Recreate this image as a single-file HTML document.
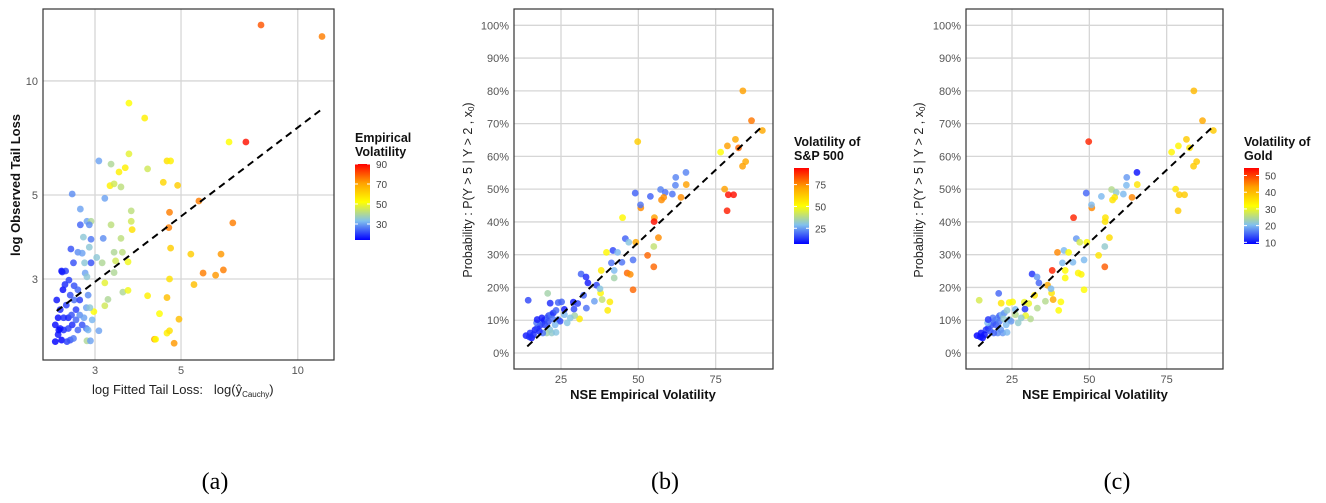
<!DOCTYPE html>
<html><head><meta charset="utf-8"><style>
body{margin:0;background:#fff;width:1326px;height:498px;overflow:hidden}
svg text{font-family:"Liberation Sans",sans-serif}
</style></head><body>
<svg id="s" width="1326" height="498" xmlns="http://www.w3.org/2000/svg">
<defs>
<linearGradient id="cg" x1="0" y1="1" x2="0" y2="0">
<stop offset="0" stop-color="#0000ff"/><stop offset="0.25" stop-color="#80c0ee"/><stop offset="0.5" stop-color="#ffff00"/><stop offset="0.75" stop-color="#ffa000"/><stop offset="1" stop-color="#ff0000"/>
</linearGradient>
</defs>
</svg>
<script>
// ---------- Panel A data ----------
const aX=[8.04,11.55,3.67,4.03,6.65,7.35,3.07,3.67,4.6,4.7,3.59,3.46,3.3,4.1,3.28,3.36,3.5,4.5,4.9,2.62,3.18,5.56,2.75,3.72,4.67,6.8,2.86,2.93,3.72,3.3,2.75,2.9,3.74,4.65,2.8,2.93,3.15,3.5,2.6,2.71,2.78,2.9,3.03,3.36,3.53,4.7,5.3,6.34,3.39,3.65,2.64,2.93,2.82,3.13,5.7,6.14,6.43,2.46,2.52,4.67,5.4,2.83,2.86,3.36,3.18,3.54,3.65,4.1,4.6,3.24,3.18,2.98,4.4,4.94,4.6,4.67,4.27,4.3,4.8,3.07,2.86,2.92,
2.39,2.44,2.48,2.53,2.56,2.59,2.62,2.65,2.68,2.71,2.37,2.41,2.46,2.49,2.54,2.59,2.64,2.68,2.74,2.78,2.81,2.85,2.88,2.51,2.57,2.47,2.65,2.71,2.74,2.41,2.44,2.49,2.61,2.37,2.42,2.56,2.85,2.91,2.88,2.95];
const aY=[14.05,13.1,8.74,7.98,6.9,6.9,6.15,6.42,6.15,6.15,5.9,5.75,6.03,5.86,5.29,5.35,5.25,5.4,5.3,5.03,4.9,4.82,4.59,4.54,4.5,4.22,4.26,4.26,4.26,4.17,4.17,4.17,4.05,4.1,3.87,3.82,3.84,3.84,3.6,3.53,3.51,3.64,3.42,3.53,3.53,3.62,3.49,3.49,3.35,3.33,3.31,3.31,3.31,3.31,3.11,3.07,3.17,3.15,3.15,3.0,2.9,3.11,3.04,3.12,2.93,2.77,2.8,2.71,2.68,2.65,2.55,2.46,2.43,2.35,2.16,2.19,2.08,2.08,2.03,2.19,2.06,2.06,
2.64,2.49,2.81,2.56,2.37,2.72,2.27,2.64,2.49,2.2,2.27,2.14,2.07,2.2,2.05,2.07,2.09,2.34,2.41,2.27,2.37,2.22,2.2,2.9,2.98,3.13,2.88,2.81,2.64,2.37,2.22,2.37,2.41,2.05,2.2,2.22,2.52,2.52,2.72,2.34];
const aV=[80,75,52,55,52,88,30,48,58,55,55,55,40,45,55,45,42,60,62,28,30,75,30,42,75,75,30,40,45,42,24,28,58,75,35,26,28,42,22,28,30,35,35,40,42,62,62,72,45,50,22,22,35,40,75,72,75,15,20,58,65,30,35,40,48,40,50,55,65,40,45,52,52,65,55,58,72,52,72,30,40,30,
16,18,15,20,17,22,18,25,20,24,15,16,14,18,20,22,26,24,28,22,30,26,32,18,20,17,22,24,20,15,16,18,22,14,15,20,30,35,28,32];
const aTicksX=[3,5,10], aTicksY=[3,5,10], aLegend=[30,50,70,90];
const aLine=[[2.39,2.47],[11.55,8.43]];
// ---------- Panels B/C data (shared x,y) ----------
const bX=[83.8,86.6,90.1,81.4,78.8,76.6,82.4,84.7,83.7,49.8,62.1,62,65.4,65.5,77.9,79.1,80.8,78.7,49,53.9,57.2,58.7,61,57.5,58.2,63.8,50.8,50.7,44.9,55.2,55.1,56.5,55,53,55,48.3,45.8,49.2,46.9,39.7,41.8,43.3,41.3,44.7,46.4,47.4,42.2,42.2,48.3,38,31.5,33.1,33.7,36.5,37.8,38.3,40.8,40.1,31,37.6,35.8,33.2,14.4,20.7,21.5,24.1,25.2,29,30.4,32.3,29.2,29.4,26.1,26.1,28,27,
13.7,15,15.5,16.6,17.3,18.2,18.9,19.6,20.4,21,21.8,22.5,23.4,24.1,24.7,23.1,21.4,20.4,19.1,18,17.1,18.8,22,23.4,16.1,19.8,20.9,17.3,22.3,14.8];
const bY=[80,70.9,67.9,65.2,63.2,61.3,62.6,58.4,57,64.5,53.6,51.2,55.1,51.4,50,48.3,48.3,43.4,48.8,47.8,49.9,49,48.5,46.7,47.5,47.5,44.3,45.2,41.3,41.3,40.1,35.2,32.5,29.8,26.3,28.4,34.9,33.8,33.8,30.7,31.3,30.7,27.5,27.7,24.4,24,25.2,22.9,19.3,25.2,24.1,23.2,21.4,20.7,18.3,16.3,15.6,13,10.4,19.6,15.8,13.7,16.1,18.2,15.2,15.4,15.6,15.5,15.1,17.6,13.4,11.4,13.3,11.7,10.7,9.2,
5.3,6.1,4.6,7.1,7.6,8.4,9.2,10,10.7,11.4,11.7,12.2,13,10.2,9.7,8.6,7.1,6.1,6.1,6.6,9.2,10.7,6.1,6.3,5.6,8.6,9.6,10.2,10.4,4.9];
const bV=[72,78,70,70,72,50,80,70,72,62,22,22,22,72,72,92,92,90,18,18,22,20,20,75,75,75,75,20,52,72,92,75,40,80,80,20,18,70,30,52,15,28,20,20,80,75,28,35,80,55,18,12,10,15,52,40,55,55,55,30,25,20,15,35,12,18,18,10,15,18,15,35,10,28,30,30,
10,12,8,10,14,12,18,10,22,15,20,12,18,25,15,28,30,35,20,12,20,10,32,30,12,14,16,10,20,12];
const cV=[40,42,38,38,33,33,35,38,38,52,18,20,10,35,35,38,38,38,15,20,25,22,20,35,35,45,45,20,52,35,35,36,22,35,48,20,18,32,28,45,20,32,20,20,33,33,32,32,32,52,12,18,15,42,35,42,32,32,25,20,25,25,28,15,35,32,32,30,30,35,12,30,20,25,22,22,
9,10,9,12,12,14,15,16,18,15,20,18,22,22,18,20,18,17,15,14,20,16,18,20,10,14,16,12,22,10];
const bTicksX=[25,50,75], bTicksY=[0,10,20,30,40,50,60,70,80,90,100];
const bLegend=[25,50,75], cLegend=[10,20,30,40,50];
const bLine=[[14.1,2.0],[90.1,69.2]];

const NS="http://www.w3.org/2000/svg", S=document.getElementById('s');
function mk(tag,attrs,parent){const e=document.createElementNS(NS,tag);for(const k in attrs)e.setAttribute(k,attrs[k]);(parent||S).appendChild(e);return e;}
const stops=[[0,[0,0,255]],[0.25,[128,192,238]],[0.5,[255,255,0]],[0.75,[255,160,0]],[1,[255,0,0]]];
function cmap(t){t=Math.max(0,Math.min(1,t));for(let i=1;i<stops.length;i++){if(t<=stops[i][0]){const a=stops[i-1],b=stops[i],f=(t-a[0])/(b[0]-a[0]);return 'rgb('+a[1].map((c,j)=>Math.round(c+(b[1][j]-c)*f)).join(',')+')';}}return 'rgb(255,0,0)';}

function panel(o){
  const g=mk('g',{});
  
  
  o.tx.forEach(v=>{const x=o.sx(v);const l=mk('line',{x1:x,x2:x,y1:o.top,y2:o.bot,stroke:'#d6d6d6','stroke-width':1.3},g);
    
    const t=mk('text',{x:x,y:o.bot+14,'font-size':11,fill:'#555','text-anchor':'middle'},g);t.textContent=v;
    });
  o.ty.forEach(v=>{const y=o.sy(v);const l=mk('line',{x1:o.left,x2:o.right,y1:y,y2:y,stroke:'#d6d6d6','stroke-width':1.3},g);
    
    const t=mk('text',{x:o.left-5,y:y+4,'font-size':11,fill:'#555','text-anchor':'end'},g);t.textContent=v+(o.pct?'%':'');
    });
  for(let i=0;i<o.xs.length;i++){
    const c=mk('circle',{cx:o.sx(o.xs[i]),cy:o.sy(o.ys[i]),r:3.4,fill:cmap((o.vs[i]-o.vmin)/(o.vmax-o.vmin)),'fill-opacity':0.82},g);
    
    
  }
  const dl=mk('line',{x1:o.sx(o.line[0][0]),y1:o.sy(o.line[0][1]),x2:o.sx(o.line[1][0]),y2:o.sy(o.line[1][1]),stroke:'#000','stroke-width':2,'stroke-dasharray':'7,5'},g);
  
  const fr=mk('rect',{x:o.left,y:o.top,width:o.right-o.left,height:o.bot-o.top,fill:'none',stroke:'#333','stroke-width':1.2},g);
  
  const lg=mk('g',{},g);
  
  o.ltitle.forEach((s,i)=>{const t=mk('text',{x:o.lx,y:o.ly+i*14,'font-size':12.5,'font-weight':'bold',fill:'#111'},lg);t.textContent=s;
    });
  const bt=o.ly+o.ltitle.length*14-6, bh=76;
  const br=mk('rect',{x:o.lx,y:bt,width:15,height:bh,fill:'url(#cg)'},lg);
  
  o.lticks.forEach(v=>{const y=bt+bh-(v-o.vmin)/(o.vmax-o.vmin)*bh;
    const t=mk('text',{x:o.lx+21,y:y+4,'font-size':10,fill:'#444'},lg);t.textContent=v;
    
    mk('line',{x1:o.lx,x2:o.lx+3,y1:y,y2:y,stroke:'#fff'},lg);mk('line',{x1:o.lx+12,x2:o.lx+15,y1:y,y2:y,stroke:'#fff'},lg);});
  return g;
}
const axA=x=>95+168.4*Math.log(x/3), ayA=y=>279-164.5*Math.log(y/3);
panel({name:'panel-a',left:43,right:334,top:9,bot:360,sx:axA,sy:ayA,tx:aTicksX,ty:aTicksY,xs:aX,ys:aY,vs:aV,vmin:14,vmax:90,line:aLine,
  ltitle:['Empirical','Volatility'],lx:355,ly:142,lticks:aLegend});
const axB=x=>561+3.093*(x-25), ayB=y=>353-3.277*y;
panel({name:'panel-b',left:514,right:773,top:9,bot:369,sx:axB,sy:ayB,tx:bTicksX,ty:bTicksY,pct:true,xs:bX,ys:bY,vs:bV,vmin:7,vmax:94,line:bLine,
  ltitle:['Volatility of','S&P 500'],lx:794,ly:146,lticks:bLegend});
const axC=x=>1012+3.093*(x-25);
panel({name:'panel-c',left:966,right:1223,top:9,bot:369,sx:axC,sy:ayB,tx:bTicksX,ty:bTicksY,pct:true,xs:bX,ys:bY,vs:cV,vmin:9,vmax:54.5,line:bLine,
  ltitle:['Volatility of','Gold'],lx:1244,ly:146,lticks:cLegend});
</script>
<svg width="1326" height="498" style="position:absolute;left:0;top:0" xmlns="http://www.w3.org/2000/svg">
<text transform="translate(20,185) rotate(-90)" text-anchor="middle" font-size="13" font-weight="bold" fill="#111">log Observed Tail Loss</text>
<text x="92" y="394" font-size="13" fill="#222">log Fitted Tail Loss:&#160;&#160; log(<tspan>ŷ</tspan><tspan font-size="8" dy="3">Cauchy</tspan><tspan dy="-3">)</tspan></text>
<text transform="translate(472,190) rotate(-90)" text-anchor="middle" font-size="12.5" fill="#222">Probability : P(Y &gt; 5 | Y &gt; 2 , x<tspan font-size="8" dy="2">0</tspan><tspan dy="-2">)</tspan></text>
<text x="643" y="399" text-anchor="middle" font-size="13" font-weight="bold" fill="#111">NSE Empirical Volatility</text>
<text transform="translate(923,190) rotate(-90)" text-anchor="middle" font-size="12.5" fill="#222">Probability : P(Y &gt; 5 | Y &gt; 2 , x<tspan font-size="8" dy="2">0</tspan><tspan dy="-2">)</tspan></text>
<text x="1095" y="399" text-anchor="middle" font-size="13" font-weight="bold" fill="#111">NSE Empirical Volatility</text>
<text x="215" y="489" text-anchor="middle" font-size="24" fill="#000" style="font-family:'Liberation Serif',serif">(a)</text>
<text x="665" y="489" text-anchor="middle" font-size="24" fill="#000" style="font-family:'Liberation Serif',serif">(b)</text>
<text x="1117" y="489" text-anchor="middle" font-size="24" fill="#000" style="font-family:'Liberation Serif',serif">(c)</text>
</svg>
</body></html>
